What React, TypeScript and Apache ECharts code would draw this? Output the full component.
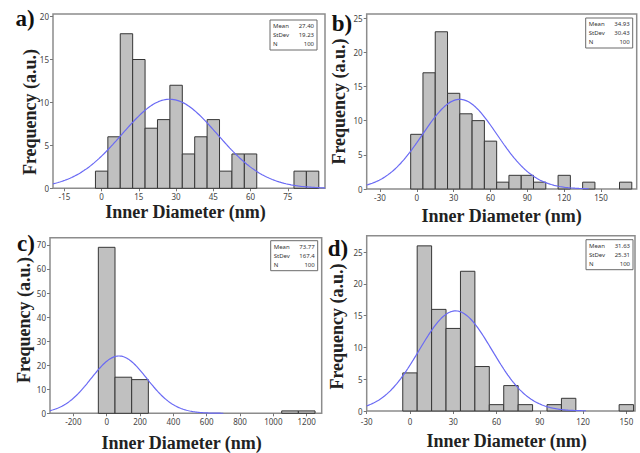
import React, { useEffect, useRef } from "react";
import * as echarts from "echarts";

// ---- data ----
const panelLabels = ["a)", "b)", "c)", "d)"];
const binWidths = [5, 10, 100, 10];

const aCenters = [0, 5, 10, 15, 20, 25, 30, 35, 40, 45, 50, 55, 60, 80, 85];
const aCounts = [2, 6, 18, 15, 7, 8, 12, 4, 6, 8, 2, 4, 4, 2, 2];

const bCenters = [0, 10, 20, 30, 40, 50, 60, 70, 80, 90, 100, 120, 140, 170];
const bCounts = [8, 17, 23, 14, 11, 10, 7, 1, 2, 2, 1, 2, 1, 1];

const cCenters = [0, 100, 200, 1100, 1200];
const cCounts = [69, 15, 14, 1, 1];

const dCenters = [0, 10, 20, 30, 40, 50, 60, 70, 80, 100, 110, 150];
const dCounts = [6, 26, 16, 13, 22, 7, 1, 4, 1, 1, 2, 1];

const means = [27.4, 34.93, 73.77, 31.63];
const stdevs = [19.23, 30.43, 167.4, 25.31];
const counts = [100, 100, 100, 100];
const meanText = ["27.40", "34.93", "73.77", "31.63"];
const stdevText = ["19.23", "30.43", "167.4", "25.31"];
const nText = ["100", "100", "100", "100"];

const xTicksA = [-15, 0, 15, 30, 45, 60, 75];
const xTicksB = [-30, 0, 30, 60, 90, 120, 150];
const xTicksC = [-200, 0, 200, 400, 600, 800, 1000, 1200];
const xTicksD = [-30, 0, 30, 60, 90, 120, 150];

const yTicksA = [0, 5, 10, 15, 20];
const yTicksB = [0, 5, 10, 15, 20, 25];
const yTicksC = [0, 10, 20, 30, 40, 50, 60, 70];
const yTicksD = [0, 5, 10, 15, 20, 25];

const xMins = [-19.6, -40.8, -340, -30];
const xMaxs = [90, 179, 1290, 156];
const yMaxs = [20.3, 25.6, 73, 27.6];
const curveEnds = [90, 140, 700, 122];

const xTitle = "Inner Diameter (nm)";
const yTitle = "Frequency (a.u.)";

// ---- layout ----
const grids = [
  { left: 53, top: 14, width: 272, height: 174.3 },
  { left: 366.7, top: 14, width: 270, height: 175 },
  { left: 50, top: 237.7, width: 271.7, height: 175.6 },
  { left: 366.7, top: 235.7, width: 268.3, height: 175.3 },
];
const xLabelMargins = [4, 4, 4, 6];
const yTitlePos = [
  [30, 112],
  [339, 101.5],
  [24, 320],
  [337, 326.5],
];
const xTitlePos = [
  [185.5, 212],
  [501.7, 216],
  [181.7, 443],
  [506.7, 441],
];
const labelPos = [
  [25, 18],
  [342, 23],
  [26, 243],
  [338, 248],
];
const boxOffsets = [
  { right: 8, top: 6 },
  { right: 4, top: 4 },
  { right: 4, top: 3 },
  { right: 2, top: 4 },
];

const SERIF = "'Liberation Serif', 'DejaVu Serif', serif";
const SANS = "'Noto Sans', 'DejaVu Sans', sans-serif";

function normalCurve(i: number): number[][] {
  const mu = means[i];
  const sd = stdevs[i];
  const scale = (counts[i] * binWidths[i]) / (sd * Math.sqrt(2 * Math.PI));
  const x0 = xMins[i];
  const x1 = Math.min(curveEnds[i], xMaxs[i]);
  const pts: number[][] = [];
  const n = 160;
  for (let k = 0; k <= n; k++) {
    const x = x0 + ((x1 - x0) * k) / n;
    pts.push([x, scale * Math.exp(-0.5 * ((x - mu) / sd) ** 2)]);
  }
  return pts;
}

export default function App() {
  const ref = useRef<HTMLDivElement>(null);
  useEffect(() => {
    if (!ref.current) return;
    const chart = echarts.init(ref.current, null, { renderer: "svg" });
    const centers = [aCenters, bCenters, cCenters, dCenters];
    const cnts = [aCounts, bCounts, cCounts, dCounts];
    const xTicks = [xTicksA, xTicksB, xTicksC, xTicksD];
    const yTicks = [yTicksA, yTicksB, yTicksC, yTicksD];

    const grid = grids.map((g) => ({
      ...g,
      show: true,
      borderColor: "#8c8c8c",
      borderWidth: 1.5,
      backgroundColor: "#fff",
      containLabel: false,
    }));

    const xAxis = grids.map((_, i) => ({
      type: "value",
      gridIndex: i,
      min: xMins[i],
      max: xMaxs[i],
      splitLine: { show: false },
      axisLine: { show: false, onZero: false },
      axisTick: { show: true, length: 3, customValues: xTicks[i], lineStyle: { color: "#777" } },
      axisLabel: {
        customValues: xTicks[i],
        formatter: (v: number) => String(v),
        fontSize: 8,
        color: "#444",
        fontFamily: SANS,
        margin: xLabelMargins[i],
      },
    }));
    const yAxis = grids.map((_, i) => ({
      type: "value",
      gridIndex: i,
      min: 0,
      max: yMaxs[i],
      splitLine: { show: false },
      axisLine: { show: false, onZero: false },
      axisTick: { show: true, length: 3, customValues: yTicks[i], lineStyle: { color: "#777" } },
      axisLabel: {
        customValues: yTicks[i],
        formatter: (v: number) => String(v),
        fontSize: 8,
        color: "#444",
        fontFamily: SANS,
        margin: 4,
      },
    }));

    const series: any[] = [];
    grids.forEach((_, i) => {
      const w = binWidths[i];
      series.push({
        type: "custom",
        xAxisIndex: i,
        yAxisIndex: i,
        data: centers[i].map((c, k) => [c, cnts[i][k]]),
        encode: { x: 0, y: 1 },
        renderItem: (params: any, api: any) => {
          const x = api.value(0);
          const y = api.value(1);
          const p1 = api.coord([x - w / 2, y]);
          const p2 = api.coord([x + w / 2, 0]);
          return {
            type: "rect",
            shape: { x: p1[0], y: p1[1], width: p2[0] - p1[0], height: p2[1] - p1[1] },
            style: { fill: "#c0c0c0", stroke: "#363636", lineWidth: 1 },
          };
        },
        z: 2,
      });
      series.push({
        type: "line",
        xAxisIndex: i,
        yAxisIndex: i,
        data: normalCurve(i),
        showSymbol: false,
        symbol: "none",
        smooth: false,
        clip: true,
        lineStyle: { color: "#6a6af4", width: 1.2 },
        z: 3,
      });
    });

    const graphic: any[] = [];
    grids.forEach((g, i) => {
      graphic.push({
        type: "text",
        x: labelPos[i][0],
        y: labelPos[i][1],
        style: {
          text: panelLabels[i],
          font: `bold 23px ${SERIF}`,
          fill: "#111",
          textAlign: "center",
          textVerticalAlign: "middle",
        },
      });
      graphic.push({
        type: "text",
        x: yTitlePos[i][0],
        y: yTitlePos[i][1],
        rotation: Math.PI / 2,
        style: {
          text: yTitle,
          font: `bold 18px ${SERIF}`,
          fill: "#222",
          textAlign: "center",
          textVerticalAlign: "middle",
        },
      });
      graphic.push({
        type: "text",
        x: xTitlePos[i][0],
        y: xTitlePos[i][1],
        style: {
          text: xTitle,
          font: `bold 18px ${SERIF}`,
          fill: "#222",
          textAlign: "center",
          textVerticalAlign: "middle",
        },
      });
      const bw = 47;
      const bh = 30;
      const bx = g.left + g.width - boxOffsets[i].right - bw;
      const by = g.top + boxOffsets[i].top;
      graphic.push({
        type: "rect",
        shape: { x: bx, y: by, width: bw, height: bh },
        style: { fill: "#fff", stroke: "#6a6a6a", lineWidth: 1 },
        z: 10,
      });
      const rows = [
        ["Mean", meanText[i]],
        ["StDev", stdevText[i]],
        ["N", nText[i]],
      ];
      rows.forEach((r, k) => {
        const ty = by + 6 + k * 9;
        graphic.push({
          type: "text",
          x: bx + 3,
          y: ty,
          z: 11,
          style: { text: r[0], font: `6px ${SANS}`, fill: "#333", textAlign: "left", textVerticalAlign: "middle" },
        });
        graphic.push({
          type: "text",
          x: bx + bw - 3,
          y: ty,
          z: 11,
          style: { text: r[1], font: `6px ${SANS}`, fill: "#333", textAlign: "right", textVerticalAlign: "middle" },
        });
      });
    });

    chart.setOption({
      animation: false,
      backgroundColor: "#fff",
      grid,
      xAxis,
      yAxis,
      series,
      graphic,
    });
    return () => chart.dispose();
  }, []);
  return (
    <div
      ref={ref}
      style={{ position: "fixed", left: 0, top: 0, width: 640, height: 453 }}
    />
  );
}
